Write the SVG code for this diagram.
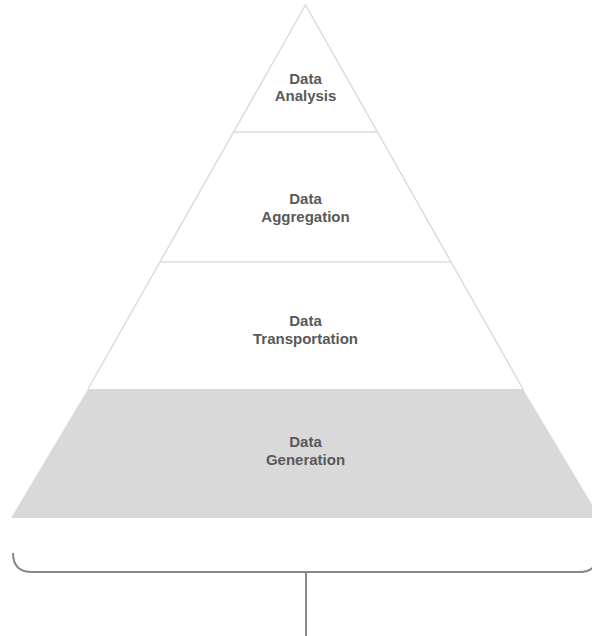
<svg xmlns="http://www.w3.org/2000/svg" width="592" height="636" viewBox="0 0 592 636">
<style>
.edge{fill:none;stroke:#dcdcdc;stroke-width:1.5}
.base{fill:#d9d9d9;stroke:none}
.lbl{font-family:"Liberation Sans",Arial,sans-serif;font-weight:bold;font-size:15px;fill:#595959;text-anchor:middle}
.brace{fill:none;stroke:#888;stroke-width:2}
</style>
<rect width="592" height="636" fill="#fff"/>
<g id="layer-generation">
<polygon class="base" points="88,389 523,389 600,518 11,518"/>
<text class="lbl" x="305.5" y="447">Data</text>
<text class="lbl" x="305.5" y="464.5">Generation</text>
</g>
<g id="layer-transportation">
<line class="edge" x1="160.5" y1="262" x2="450.5" y2="262"/>
<text class="lbl" x="305.5" y="326">Data</text>
<text class="lbl" x="305.5" y="344">Transportation</text>
</g>
<g id="layer-aggregation">
<line class="edge" x1="234" y1="132" x2="377" y2="132"/>
<text class="lbl" x="305.5" y="204">Data</text>
<text class="lbl" x="305.5" y="221.5">Aggregation</text>
</g>
<g id="layer-analysis">
<polyline class="edge" points="88,389 305.5,5 523,389"/>
<text class="lbl" x="305.5" y="84">Data</text>
<text class="lbl" x="305.5" y="101">Analysis</text>
</g>
<g id="connectors">
<path class="brace" d="M13,553 Q13,572 32,572 L579,572 Q598,572 598,553"/>
<line class="brace" x1="306" y1="572" x2="306" y2="636"/>
</g>
</svg>
